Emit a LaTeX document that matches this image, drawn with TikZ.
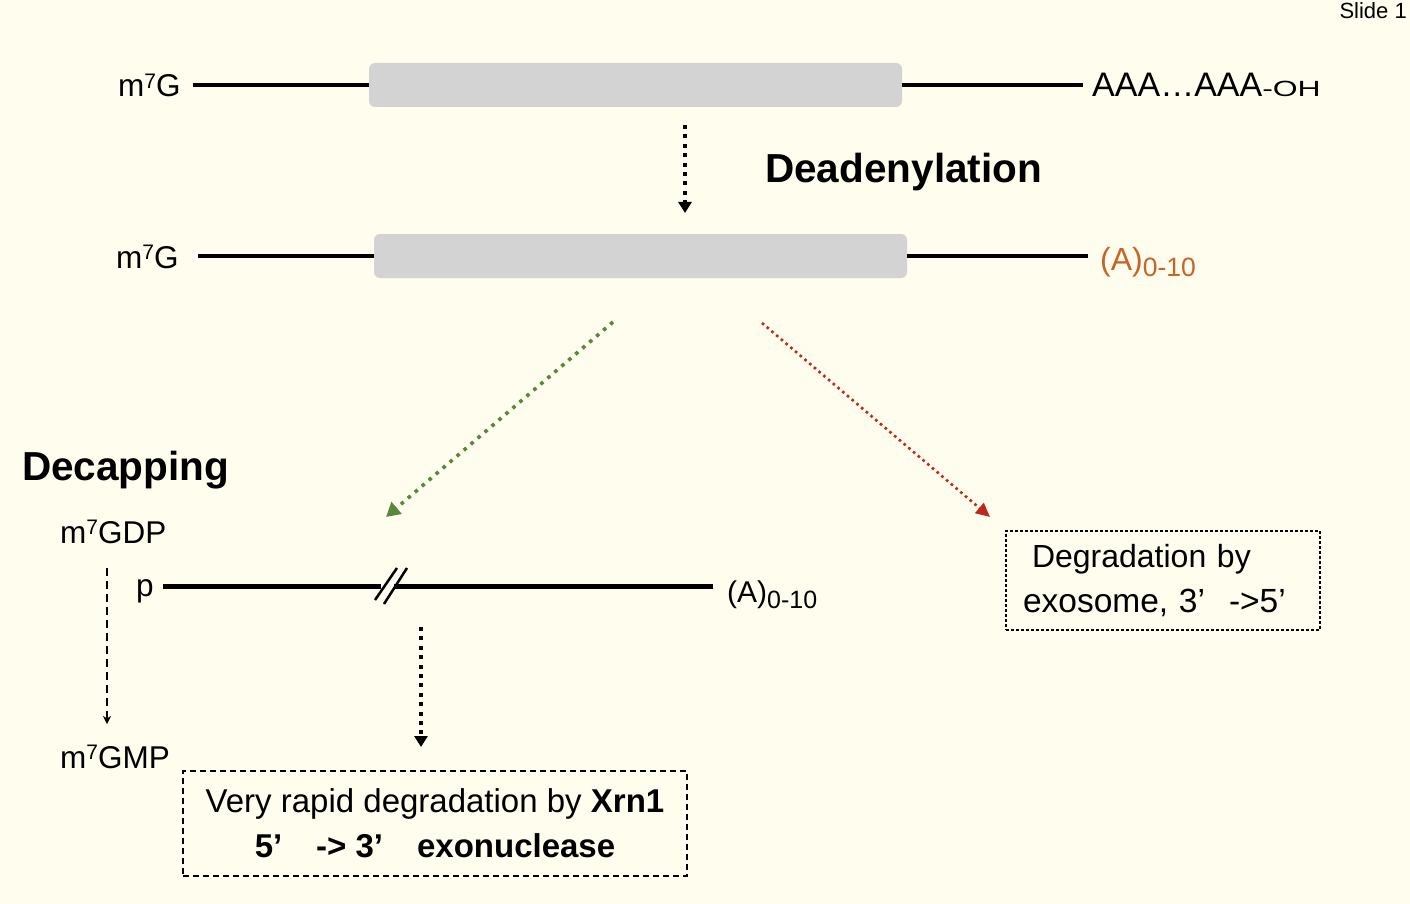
\documentclass[tikz,border=0pt]{standalone}
\usepackage{fontspec}
\setmainfont{Liberation Sans}
\usetikzlibrary{arrows.meta}
\definecolor{bg}{RGB}{254,253,238}
\definecolor{cdsgray}{RGB}{211,211,211}
\definecolor{orng}{RGB}{201,99,38}
\definecolor{grn}{RGB}{90,135,60}
\definecolor{rd}{RGB}{192,40,28}
\newcommand\myup[1]{\raisebox{0.26em}{\fontsize{21}{21}\selectfont #1}}
\newcommand\mydn[2]{\raisebox{-0.2em}{\fontsize{#1}{#1}\selectfont #2}}
\begin{document}
\begin{tikzpicture}[x=1pt,y=-1pt,
  lab/.style={inner sep=0pt, font=\fontsize{31.5}{36}\selectfont},
  bigbold/.style={inner sep=0pt, font=\fontsize{40.5}{46}\selectfont\bfseries},
  rna/.style={line width=4pt},
  cdsbox/.style={fill=cdsgray, rounded corners=6pt, inner sep=0pt, minimum width=533pt, minimum height=44pt},
  dotarr/.style={line width=4pt, dash pattern=on 4pt off 5.4pt, -{Triangle[width=13pt,length=11pt]}},
  grnarr/.style={grn, line width=3.6pt, dash pattern=on 3.6pt off 5.6pt, -{Triangle[width=15pt,length=14pt]}},
  rdarr/.style={rd, line width=2.6pt, dash pattern=on 2.6pt off 3.6pt, -{Triangle[width=13pt,length=14pt]}},
  dasharr/.style={line width=2pt, dash pattern=on 8pt off 5pt, -{Stealth[length=8pt,width=8pt,inset=2.5pt]}},
  xrnbox/.style={draw, line width=2pt, dash pattern=on 6pt off 4pt, minimum width=504pt, minimum height=105pt, inner sep=0pt, align=center, font=\fontsize{33}{45}\selectfont},
  exobox/.style={draw, line width=1.3pt, dash pattern=on 3pt off 2pt, minimum height=99pt, text width=280pt, inner xsep=17pt, inner ysep=0pt, align=left, font=\fontsize{32}{45}\selectfont}
]
\fill[bg] (0,0) rectangle (1410,904);
\useasboundingbox (0,0) rectangle (1410,904);

\node[inner sep=0pt, anchor=base east, font=\fontsize{22}{24}\selectfont] (slide) at (1407,19) {Slide 1};

% row 1
\node[lab, anchor=base west] (g1) at (118,97) {m\myup{7}G};
\coordinate (l1a) at (193,85);
\node[cdsbox] (box1) at (635.5,85) {};
\coordinate (l1b) at (1083,85);
\draw[rna] (l1a) -- (box1.west);
\draw[rna] (box1.east) -- (l1b);
\node[lab, anchor=base west, font=\fontsize{34}{36}\selectfont] (polya) at (1092,97) {AAA\ldots AAA\scalebox{1.45}[1]{\fontsize{22}{22}\selectfont -OH}};

% deadenylation
\coordinate (a1s) at (685,125);
\coordinate (a1e) at (685,213);
\draw[dotarr] (a1s) -- (a1e);
\node[bigbold, anchor=base west] (dead) at (765,183) {Deadenylation};

% row 2
\node[lab, anchor=base west] (g2) at (116,268) {m\myup{7}G};
\coordinate (l2a) at (198,256);
\node[cdsbox] (box2) at (640.5,256) {};
\coordinate (l2b) at (1088,256);
\draw[rna] (l2a) -- (box2.west);
\draw[rna] (box2.east) -- (l2b);
\node[lab, anchor=base west, text=orng, font=\fontsize{32}{36}\selectfont] (a010o) at (1100,270) {(A)\mydn{26.5}{0-10}};

% branches
\coordinate (gs) at (613,322);
\coordinate (ge) at (386,517);
\draw[grnarr] (gs) -- (ge);
\coordinate (rs) at (762,323);
\coordinate (re) at (990,517);
\draw[rdarr] (rs) -- (re);

% decapping
\node[bigbold, anchor=base west] (decap) at (22,480) {Decapping};
\node[lab, anchor=base west] (gdp) at (60,543) {m\myup{7}GDP};
\node[lab, anchor=base west] (gmp) at (60,768) {m\myup{7}GMP};
\coordinate (ds) at (107,568);
\coordinate (de) at (107,724);
\draw[dasharr] (ds) -- (de);
\node[lab, anchor=base west] (p) at (136,596) {p};

% row 3
\coordinate (l3a) at (163,586);
\coordinate (brkL) at (381,586);
\coordinate (brkR) at (394,586);
\coordinate (l3b) at (713,586);
\draw[line width=5pt] (l3a) -- (brkL);
\draw[line width=5pt] (brkR) -- (l3b);
\draw[line width=2.5pt] (375,600) -- (397,568);
\draw[line width=2.5pt] (384,604) -- (407,568);
\node[lab, anchor=base west, font=\fontsize{30}{34}\selectfont] (a010) at (727,602) {(A)\mydn{25}{0-10}};

\coordinate (a2s) at (421,627);
\coordinate (a2e) at (421,747);
\draw[dotarr] (a2s) -- (a2e);

% boxes
\node[xrnbox] (xrn) at (435,823.5) {Very rapid degradation by \textbf{Xrn1}\\\textbf{5’\hspace{0.75em} -> 3’\hspace{0.75em} exonuclease}};
\node[exobox] (exo) at (1163,580.5) {\hspace*{9pt}Degradation by\\{\fontsize{33.5}{45}\selectfont exosome, 3’\hspace{0.4em} ->5’}};
\end{tikzpicture}
\end{document}
